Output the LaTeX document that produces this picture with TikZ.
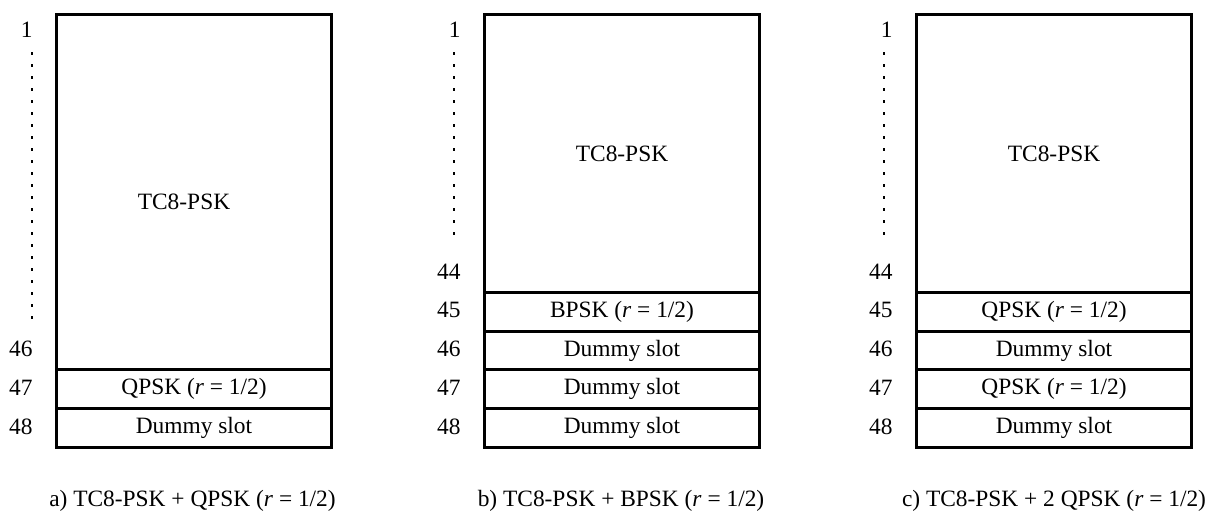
\documentclass[tikz,border=0pt]{standalone}
\usepackage{fontspec}
\setmainfont{Liberation Serif}
\begin{document}
\begin{tikzpicture}[x=0.5pt,y=-0.5pt,
  every node/.style={font=\fontsize{11.7}{14}\selectfont},
  slot/.style={draw, line width=1.5pt, minimum width=137.5pt,
    minimum height=19.4pt, inner sep=0pt, anchor=north west},
  num/.style={anchor=east, inner sep=0pt},
  dots/.style={line width=0.8pt, dash pattern=on 1.5pt off 4.5pt},
  capt/.style={anchor=base, inner sep=0pt}]
\useasboundingbox (0,0) rectangle (1213,511);

% ---- a) TC8-PSK + QPSK ----
\node[slot, minimum height=177.7pt] (a-main) at (55,13) {};
\node (a-lbl) at (184,202) {TC8-PSK};
\node[slot] (a-47) at (55,368.4) {QPSK (\textit{r} = 1/2)};
\node[slot] (a-48) at (55,407.2) {Dummy slot};
\node[num] (a-n1)  at (33,29.5)  {1};
\node[num] (a-n46) at (33,349)   {46};
\node[num] (a-n47) at (33,387.8) {47};
\node[num] (a-n48) at (33,426.6) {48};
\coordinate (a-d1) at (32,52);
\coordinate (a-d2) at (32,322);
\draw[dots] (a-d1) -- (a-d2);
\node[capt] (a-cap) at (192.5,506) {a) TC8-PSK + QPSK (\textit{r} = 1/2)};

% ---- b) TC8-PSK + BPSK ----
\node[slot, minimum height=138.9pt] (b-main) at (483,13) {TC8-PSK};
\node[slot] (b-45) at (483,290.8) {BPSK (\textit{r} = 1/2)};
\node[slot] (b-46) at (483,329.6) {Dummy slot};
\node[slot] (b-47) at (483,368.4) {Dummy slot};
\node[slot] (b-48) at (483,407.2) {Dummy slot};
\node[num] (b-n1)  at (461,29.5)  {1};
\node[num] (b-n44) at (461,271.4) {44};
\node[num] (b-n45) at (461,310.2) {45};
\node[num] (b-n46) at (461,349)   {46};
\node[num] (b-n47) at (461,387.8) {47};
\node[num] (b-n48) at (461,426.6) {48};
\coordinate (b-d1) at (454,52);
\coordinate (b-d2) at (454,237);
\draw[dots] (b-d1) -- (b-d2);
\node[capt] (b-cap) at (621,506) {b) TC8-PSK + BPSK (\textit{r} = 1/2)};

% ---- c) TC8-PSK + 2 QPSK ----
\node[slot, minimum height=138.9pt] (c-main) at (915,13) {TC8-PSK};
\node[slot] (c-45) at (915,290.8) {QPSK (\textit{r} = 1/2)};
\node[slot] (c-46) at (915,329.6) {Dummy slot};
\node[slot] (c-47) at (915,368.4) {QPSK (\textit{r} = 1/2)};
\node[slot] (c-48) at (915,407.2) {Dummy slot};
\node[num] (c-n1)  at (893,29.5)  {1};
\node[num] (c-n44) at (893,271.4) {44};
\node[num] (c-n45) at (893,310.2) {45};
\node[num] (c-n46) at (893,349)   {46};
\node[num] (c-n47) at (893,387.8) {47};
\node[num] (c-n48) at (893,426.6) {48};
\coordinate (c-d1) at (884,52);
\coordinate (c-d2) at (884,237);
\draw[dots] (c-d1) -- (c-d2);
\node[capt] (c-cap) at (1054,506) {c) TC8-PSK + 2 QPSK (\textit{r} = 1/2)};
\end{tikzpicture}
\end{document}
